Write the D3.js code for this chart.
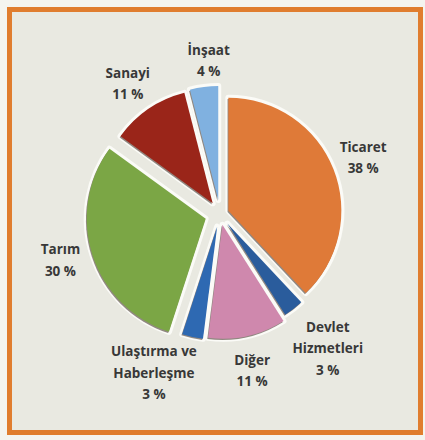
<!DOCTYPE html>
<html>
<head>
<meta charset="utf-8">
<script src="https://cdn.jsdelivr.net/npm/d3@7"></script>
<style>
  body { margin: 0; background: #f4f4ef; }
  text { font-family: "Open Sans", sans-serif; font-weight: 700; fill: #383838; }
</style>
</head>
<body>
<div id="chart"></div>
<script>
// sector shares, clockwise from 12 o'clock
const categories = ["Ticaret", "Devlet\nHizmetleri", "Diğer", "Ulaştırma ve\nHaberleşme", "Tarım", "Sanayi", "İnşaat"];
const values = [38, 3, 11, 3, 30, 11, 4];
const colors = ["#df7a38", "#2a5c9c", "#cf88ad", "#2e69b2", "#7ba645", "#9a2519", "#80b1e0"];

// per slice: explode distance, radius, label radius, label angle nudge (deg)
const explode = [9, 12, 11, 13, 15, 13, 14];
const radii = [113, 108, 114, 113, 119, 114, 114];
const labelR = [154, 172, 160, 172, 166, 160, 154];
const labelNudge = [0, -1, 1, 10, 2, -1, 3];

const width = 425, height = 440;
const cx = 220, cy = 214;

const svg = d3.select("#chart").append("svg")
  .attr("width", width)
  .attr("height", height);

svg.append("rect")
  .attr("x", 9.5).attr("y", 9.5)
  .attr("width", 411).attr("height", 423)
  .attr("fill", "#e9e9e1")
  .attr("stroke", "#e07d2e")
  .attr("stroke-width", 5);

const pie = d3.pie().sort(null).value(d => d.value);
const data = categories.map((c, i) => ({ name: c, value: values[i], i: i }));
const arcs = pie(data);

const g = svg.append("g")
  .attr("transform", "translate(" + cx + "," + cy + ")");

const mid = d => (d.startAngle + d.endAngle) / 2;

const slice = g.selectAll("g.slice")
  .data(arcs)
  .enter().append("g")
  .attr("class", "slice")
  .attr("transform", d => {
    const a = mid(d), e = explode[d.data.i];
    return "translate(" + (Math.sin(a) * e) + "," + (-Math.cos(a) * e) + ")";
  });

const arcFor = d => d3.arc().innerRadius(0).outerRadius(radii[d.data.i])(d);

// white halo that fills the gaps
slice.append("path")
  .attr("d", arcFor)
  .attr("fill", "#fbfbf7")
  .attr("stroke", "#fbfbf7")
  .attr("stroke-width", 6)
  .attr("stroke-linejoin", "round");

// soft shadow edge
slice.append("path")
  .attr("d", arcFor)
  .attr("transform", "translate(-0.8,1.2)")
  .attr("fill", "#3a2a20")
  .attr("opacity", 0.55);

slice.append("path")
  .attr("d", arcFor)
  .attr("fill", d => colors[d.data.i]);

// labels
const labels = g.selectAll("text.label")
  .data(arcs)
  .enter().append("text")
  .attr("class", "label")
  .attr("text-anchor", "middle")
  .style("font-size", "13.5px");

labels.each(function (d) {
  const lines = d.data.name.split("\n").concat([d.data.value + " %"]);
  const a = mid(d) + labelNudge[d.data.i] * Math.PI / 180;
  const r = labelR[d.data.i];
  const x = Math.sin(a) * r, y = -Math.cos(a) * r;
  const lh = 21.5;
  const y0 = y - (lines.length - 1) * lh / 2 + 5;
  const t = d3.select(this);
  lines.forEach((ln, k) => {
    t.append("tspan")
      .attr("x", x)
      .attr("y", y0 + k * lh)
      .text(ln);
  });
});
</script>
</body>
</html>
